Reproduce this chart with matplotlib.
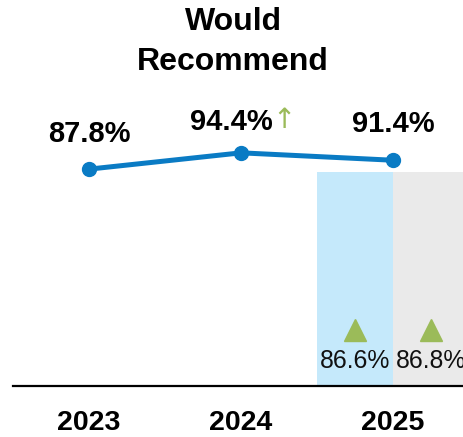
import matplotlib.pyplot as plt
from matplotlib import transforms

plt.rcParams['font.family'] = ['Liberation Sans', 'DejaVu Sans']

# yearly "would recommend" score
years = ['2023', '2024', '2025']
scores = [87.8, 94.4, 91.4]
score_labels = ['87.8%', '94.4%', '91.4%']

# 2025 comparison bars
bench_values = [86.6, 86.8]
bench_labels = ['86.6%', '86.8%']
bench_colors = ['#C5E9FB', '#EAEAEA']

line_color = '#0A7BC4'
green = '#9BBB59'

fig = plt.figure(figsize=(4.64, 4.37), dpi=100)
ax = fig.add_axes([13 / 464, 51 / 437, 451 / 464, 247 / 437])

x = list(range(len(years)))

# benchmark bars either side of the 2025 point
bar_x = [x[2] - 0.25, x[2] + 0.25]
ax.bar(bar_x, bench_values, width=0.5, color=bench_colors, zorder=1)
tri_shift = ax.transData + transforms.ScaledTranslation(0, 0.56, fig.dpi_scale_trans)
for bx, lab in zip(bar_x, bench_labels):
    ax.plot(bx, 0, marker='^', markersize=16, color=green, clip_on=False,
            linestyle='none', transform=tri_shift, zorder=3)
    ax.annotate(lab, (bx, 0), xytext=(0, 18), textcoords='offset points',
                ha='center', va='center', fontsize=17.8, color='#111111', zorder=4)

# score line
ax.plot(x, scores, color=line_color, linewidth=3.6, marker='o', markersize=10,
        solid_capstyle='round', zorder=5)

offsets = [(0, 25), (-7, 22), (0, 26)]
for xi, val, lab, off in zip(x, scores, score_labels, offsets):
    t = ax.annotate(lab, (xi, val), xytext=off, textcoords='offset points',
                    ha='center', va='center', fontsize=21, fontweight='bold',
                    annotation_clip=False)
    if lab == '94.4%':
        ax.annotate('↑', xy=(1, 0.5), xycoords=t, xytext=(0, 1.5),
                    textcoords='offset points', ha='left', va='center',
                    fontsize=20, color=green, family='DejaVu Sans')

ax.set_xlim(-0.5, 2.467)
ax.set_ylim(0, 100)
ax.set_xticks(x)
ax.set_xticklabels(years, fontsize=20.5, fontweight='bold')
ax.tick_params(axis='x', length=0, pad=17)
ax.set_yticks([])
for side in ['top', 'right', 'left']:
    ax.spines[side].set_visible(False)
ax.spines['bottom'].set_linewidth(1.6)
ax.spines['bottom'].set_zorder(6)

fig.text(233 / 464, 1 - 7 / 437, 'Would\nRecommend', ha='center', va='top',
         fontsize=23, fontweight='bold', linespacing=1.45)

fig.savefig('out.png', dpi=100)
